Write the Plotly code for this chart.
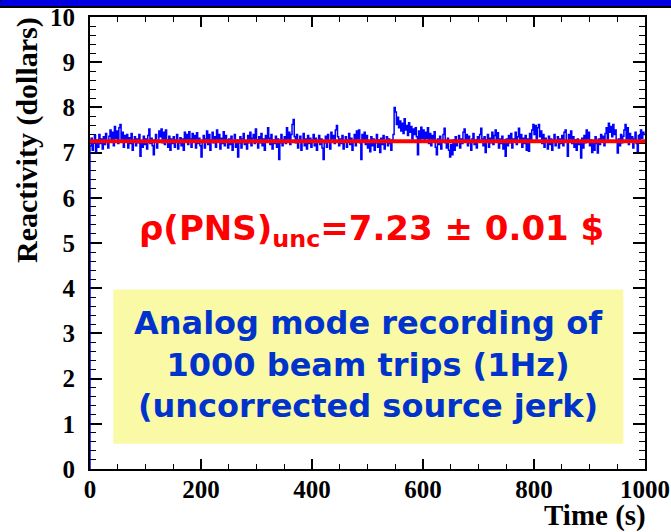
import plotly.graph_objects as go

# ---- data ----
TIME_STEP = 2
REACTIVITY = [
    # 0-50 s
    7.15, 7.32, 7.05, 7.22, 7.38, 7.02, 7.28, 7.12, 7.40, 7.20, 7.30, 7.08, 7.35, 7.18, 7.42, 7.25, 7.10, 7.36, 7.50, 7.28, 7.45, 7.15, 7.58, 7.32, 7.48,
    # 50-100 s
    7.20, 7.55, 7.62, 7.30, 7.45, 7.12, 7.38, 7.25, 7.40, 7.10, 7.33, 7.20, 7.42, 7.05, 7.28, 7.35, 7.15, 7.30, 7.22, 7.40, 6.92, 7.25, 7.12, 7.36, 7.18,
    # 100-150 s
    7.30, 7.08, 7.38, 7.52, 7.20, 7.32, 7.15, 6.95, 7.28, 7.40, 7.10, 7.25, 7.48, 7.35, 7.52, 7.22, 7.45, 7.18, 7.50, 7.28, 7.12, 7.36, 7.05, 7.30, 7.20,
    # 150-200 s
    7.35, 7.12, 7.28, 7.40, 7.08, 7.22, 7.33, 7.15, 7.30, 7.05, 7.45, 7.25, 7.40, 7.18, 7.46, 7.30, 7.12, 7.42, 7.28, 7.38, 7.10, 7.44, 7.20, 7.32, 7.15,
    # 200-250 s
    6.90, 7.25, 7.38, 7.10, 7.30, 7.48, 7.18, 7.40, 7.05, 7.28, 7.45, 7.22, 7.35, 7.12, 7.50, 7.26, 7.40, 7.08, 7.32, 7.20, 7.46, 7.15, 7.38, 7.28, 7.10,
    # 250-300 s
    7.30, 7.18, 7.36, 7.05, 7.25, 7.40, 7.12, 7.28, 6.90, 7.22, 7.35, 7.10, 7.30, 7.42, 7.18, 7.26, 7.08, 7.38, 7.22, 7.45, 7.15, 7.32, 7.40, 7.20, 7.52,
    # 300-350 s
    7.28, 7.10, 7.35, 7.22, 7.42, 7.15, 7.30, 7.05, 7.38, 7.25, 7.55, 7.32, 7.18, 7.40, 7.08, 7.28, 7.20, 7.36, 7.12, 7.30, 6.85, 7.22, 7.40, 7.15, 7.28,
    # 350-400 s
    7.35, 7.20, 7.55, 7.30, 7.45, 7.18, 7.40, 7.62, 7.73, 7.35, 7.22, 7.40, 7.10, 7.28, 7.36, 7.05, 7.25, 7.42, 7.15, 7.30, 7.08, 7.38, 7.20, 7.32, 7.12,
    # 400-450 s
    7.28, 7.40, 7.15, 7.32, 7.05, 7.25, 7.38, 7.18, 7.30, 7.10, 6.85, 7.22, 7.36, 7.12, 7.40, 7.25, 7.08, 7.45, 7.30, 7.38, 7.20, 7.50, 7.60, 7.35, 7.15,
    # 450-500 s
    7.30, 7.20, 7.38, 7.08, 7.25, 7.35, 7.12, 7.28, 7.42, 7.18, 7.32, 7.05, 7.26, 7.40, 7.15, 7.48, 7.30, 7.50, 7.22, 6.85, 7.40, 7.28, 7.45, 7.18, 7.38,
    # 500-550 s
    7.10, 7.25, 7.02, 7.35, 7.15, 7.30, 7.05, 7.22, 7.40, 7.12, 7.28, 7.00, 7.32, 7.18, 7.38, 7.08, 7.26, 7.35, 7.15, 7.30, 7.20, 7.05, 7.28, 7.40, 8.00,
    # 550-600 s
    7.90, 7.62, 7.78, 7.55, 7.70, 7.48, 7.65, 7.42, 7.75, 7.50, 7.60, 7.38, 7.66, 7.45, 7.58, 7.30, 7.52, 7.40, 7.55, 7.35, 6.95, 7.48, 7.28, 7.56, 7.32,
    # 600-650 s
    7.50, 7.25, 7.45, 7.32, 7.55, 7.20, 7.42, 7.15, 7.38, 7.28, 7.46, 7.12, 6.95, 7.30, 7.18, 7.36, 7.08, 7.25, 7.40, 7.54, 7.22, 7.10, 7.32, 7.05, 6.90,
    # 650-700 s
    7.18, 6.95, 7.28, 7.05, 7.35, 7.15, 7.25, 7.38, 7.10, 7.30, 7.20, 7.45, 7.52, 7.28, 7.40, 7.15, 7.36, 7.22, 7.05, 7.30, 7.42, 7.18, 7.28, 7.10, 7.35,
    # 700-750 s
    7.25, 7.40, 7.54, 7.30, 7.15, 7.35, 7.00, 7.28, 7.40, 7.12, 7.32, 7.22, 7.45, 7.18, 7.38, 7.50, 7.26, 7.44, 7.10, 7.30, 7.20, 7.36, 7.08, 7.28, 6.92,
    # 750-800 s
    7.30, 7.15, 7.38, 7.22, 7.42, 7.10, 7.30, 7.25, 7.45, 7.18, 7.35, 7.54, 7.28, 7.40, 7.12, 7.32, 7.20, 7.38, 7.05, 7.30, 7.03, 7.42, 7.28, 7.50, 7.62,
    # 800-850 s
    7.40, 7.60, 7.30, 7.55, 7.62, 7.35, 7.48, 7.20, 7.40, 7.12, 7.32, 7.25, 7.08, 7.36, 7.18, 7.30, 7.05, 7.28, 7.40, 7.15, 7.26, 7.35, 7.10, 7.30, 7.20,
    # 850-900 s
    7.38, 7.15, 7.45, 7.50, 7.25, 6.92, 7.40, 7.30, 7.48, 7.20, 7.35, 7.12, 7.28, 7.05, 7.30, 7.18, 7.25, 6.88, 7.32, 7.10, 7.38, 7.22, 7.50, 7.30, 7.45,
    # 900-950 s
    7.15, 7.28, 7.00, 7.22, 7.05, 7.35, 7.20, 6.99, 7.30, 7.18, 7.40, 7.25, 7.36, 7.15, 7.42, 7.55, 7.30, 7.65, 7.45, 7.58, 7.35, 7.62, 7.40, 7.50, 7.28,
    # 950-1000 s
    6.99, 7.30, 7.15, 7.40, 7.22, 7.36, 7.50, 7.62, 7.30, 7.55, 7.18, 7.42, 7.25, 7.35, 7.10, 7.30, 7.45, 7.20, 7.03, 7.38, 7.25, 7.50, 7.32, 7.45, 7.40,
]
TIME = [i * TIME_STEP for i in range(len(REACTIVITY))]
FIT_VALUE = 7.25
FIT_RANGE = [0, 1000]
X_TICKS = [0, 200, 400, 600, 800, 1000]
Y_TICKS = list(range(0, 11))

RESULT_TEXT = "ρ(PNS)<sub>unc</sub>=7.23 ± 0.01 $"
NOTE_LINES = ["Analog mode recording of", "1000 beam trips (1Hz)", "(uncorrected source jerk)"]

# ---- figure ----
W, H = 671, 532
L, R, T, B = 90, 26, 17, 63
pw, ph = W - L - R, H - T - B

def px_x(p):
    return (p - L) / pw

def px_y(p):
    return (H - B - p) / ph

fig = go.Figure()
fig.add_trace(go.Scatter(
    x=[TIME[0]] + TIME + [FIT_RANGE[1]], y=[0] + REACTIVITY + [REACTIVITY[-1]],
    mode="lines", line=dict(color="#0000ff", width=1.5, shape="hv"),
    cliponaxis=False, hoverinfo="skip", showlegend=False))
fig.add_trace(go.Scatter(
    x=FIT_RANGE, y=[FIT_VALUE, FIT_VALUE],
    mode="lines", line=dict(color="#ff0000", width=4),
    hoverinfo="skip", showlegend=False))

serif = "Liberation Serif"
axis_common = dict(
    showline=True, linecolor="black", linewidth=2, mirror="ticks",
    ticks="inside", tickcolor="black", tickwidth=1.5,
    showgrid=False, zeroline=False, layer="below traces", automargin=False,
    tickfont=dict(family=serif, size=25, color="black", weight="bold"),
)
fig.update_xaxes(range=[0, 1000], tickvals=X_TICKS, ticklen=10,
                 minor=dict(dtick=50, ticklen=5, ticks="inside", tickcolor="black", tickwidth=1.2),
                 ticklabelstandoff=-3, **axis_common)
fig.update_yaxes(range=[0, 10], tickvals=Y_TICKS, ticklen=12,
                 minor=dict(dtick=0.2, ticklen=6, ticks="inside", tickcolor="black", tickwidth=1.2),
                 ticklabelstandoff=8, **axis_common)

# yellow note box
fig.add_shape(type="rect", xref="x", yref="y", x0=42, x1=961, y0=0.56, y1=3.97,
              fillcolor="#f9f9a6", line=dict(width=0), layer="below")
fig.add_annotation(xref="x", yref="y", x=501, y=2.32, xanchor="center", yanchor="middle",
                   text="<br>".join(NOTE_LINES), showarrow=False,
                   font=dict(family="DejaVu Sans", size=32, color="#0033cc", weight="bold"),
                   align="center")
fig.add_annotation(xref="x", yref="y", x=508, y=5.27, xanchor="center", yanchor="middle",
                   text=RESULT_TEXT, showarrow=False,
                   font=dict(family="DejaVu Sans", size=34, color="#ff0000", weight="bold"))

# axis titles
fig.add_annotation(xref="paper", yref="paper", x=px_x(27), y=px_y(140),
                   xanchor="center", yanchor="middle",
                   text="Reactivity (dollars)", textangle=-90, showarrow=False,
                   font=dict(family=serif, size=30, color="black", weight="bold"))
fig.add_annotation(xref="paper", yref="paper", x=px_x(648), y=px_y(515),
                   xanchor="right", yanchor="middle", text="Time (s)", showarrow=False,
                   font=dict(family=serif, size=29, color="black", weight="bold"))

# blue header strip at top of the page
fig.add_shape(type="path", xref="paper", yref="paper",
              path=f"M {px_x(-2)},{px_y(7)} L {px_x(673)},{px_y(7)} L {px_x(673)},{px_y(-3)} "
                   f"L {px_x(10)},{px_y(-3)} Q {px_x(-2)},{px_y(-3)} {px_x(-2)},{px_y(7)} Z",
              fillcolor="#0000e0", line=dict(color="black", width=2), layer="above")

fig.update_layout(width=W, height=H, margin=dict(l=L, r=R, t=T, b=B, autoexpand=False),
                  plot_bgcolor="white", paper_bgcolor="white")
fig.write_html("out.html")
